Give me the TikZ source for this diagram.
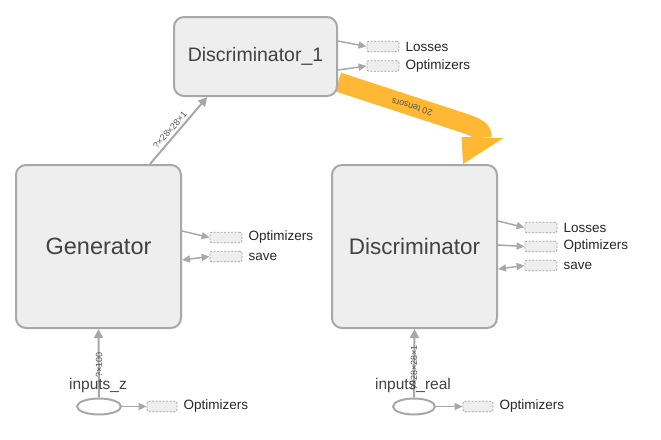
\documentclass[tikz,border=0pt]{standalone}
\usepackage{fontspec}
\setmainfont{Liberation Sans}
\usetikzlibrary{arrows.meta,shapes.geometric,backgrounds}
\definecolor{boxfill}{HTML}{EEEEEE}
\definecolor{boxline}{HTML}{A8A8A8}
\definecolor{edgegray}{HTML}{A8A8A8}
\definecolor{auxline}{HTML}{A0A0A0}
\definecolor{txtdark}{HTML}{424242}
\definecolor{lbl}{HTML}{555555}
\definecolor{orangeband}{HTML}{FFB833}
\tikzset{
  bigbox/.style={draw=boxline, line width=2pt, fill=boxfill, rounded corners=10pt, inner sep=0pt, text=txtdark},
  auxbox/.style={draw=auxline, dash pattern=on 2pt off 1.5pt, line width=0.8pt, fill=boxfill, rounded corners=2pt, minimum width=32pt, minimum height=10.5pt, inner sep=0pt},
  auxtext/.style={anchor=west, inner sep=0pt, font=\fontsize{13.5pt}{14pt}\selectfont, text=black!85},
  edge/.style={draw=edgegray, line width=2pt, -{Triangle[length=9pt 0 0, width=9pt 0 0]}},
  auxedge/.style={draw=edgegray, line width=1.5pt, -{Triangle[length=8pt 0 0, width=7pt 0 0]}},
  auxboth/.style={draw=edgegray, line width=1.5pt, {Triangle[length=8pt 0 0, width=7pt 0 0]}-{Triangle[length=8pt 0 0, width=7pt 0 0]}},
  inp/.style={ellipse, draw=boxline, line width=2pt, fill=white, inner sep=0pt},
  inplabel/.style={inner sep=0pt, font=\fontsize{15.5pt}{16pt}\selectfont, text=txtdark},
  elabel/.style={inner sep=0pt, font=\fontsize{9pt}{10pt}\selectfont, text=lbl}
}
\begin{document}
\begin{tikzpicture}[x=1pt, y=-1pt]
\useasboundingbox (0,0) rectangle (661,439);

\node[bigbox, minimum width=163pt, minimum height=79pt, font=\fontsize{19.5pt}{20pt}\selectfont] (d1) at (255.5,56.5) {Discriminator\_1};
\node[bigbox, minimum width=165pt, minimum height=163pt, font=\fontsize{23.5pt}{24pt}\selectfont] (gen) at (98.5,246.5) {Generator};
\node[bigbox, minimum width=165pt, minimum height=163pt, font=\fontsize{22.5pt}{23pt}\selectfont] (disc) at (414.5,246.5) {Discriminator};

% orange band behind the boxes
\begin{pgfonlayer}{background}
\coordinate (bandend) at (482,137.5);
\draw[orangeband, line width=19.5pt] ([yshift=-66pt]d1.north east) -- (462,122.5) .. controls (477,127.5) and (482,130) .. (bandend);
\fill[orangeband] (461.5,137) -- (503.5,138) -- ([xshift=48.5pt]disc.north) -- cycle;
\end{pgfonlayer}
\node[elabel, rotate=163] (lbl20) at (412,107) {20 tensors};

% aux nodes for Discriminator_1
\node[auxbox] (d1loss) at (383,46.5) {};
\node[auxtext] (d1losst) at ([xshift=6pt]d1loss.east) {Losses};
\node[auxbox] (d1opt) at (383,66) {};
\node[auxtext] (d1optt) at ([xshift=6pt]d1opt.east) {Optimizers};
\draw[auxedge] ([yshift=-25pt]d1.north east) -- (d1loss.west);
\draw[auxedge] ([yshift=-54pt]d1.north east) -- (d1opt.west);

% aux nodes for Generator
\node[auxbox] (gopt) at (226,237.5) {};
\node[auxtext] (gfocus) at ([xshift=6pt]gopt.east) {Optimizers};
\node[auxbox] (gsave) at (226,256.5) {};
\node[auxtext] (gsavet) at ([xshift=6pt]gsave.east) {save};
\draw[auxedge] ([yshift=-67pt]gen.north east) -- (gopt.west);
\draw[auxboth] ([yshift=-96pt]gen.north east) -- (gsave.west);

% aux nodes for Discriminator
\node[auxbox] (dloss) at (541,227.5) {};
\node[auxtext] (dlosst) at ([xshift=6pt]dloss.east) {Losses};
\node[auxbox] (dopt) at (541,246.5) {};
\node[auxtext] (doptt) at ([xshift=6pt]dopt.east) {Optimizers};
\node[auxbox] (dsave) at (541,265.5) {};
\node[auxtext] (dsavet) at ([xshift=6pt]dsave.east) {save};
\draw[auxedge] ([yshift=-57pt]disc.north east) -- (dloss.west);
\draw[auxedge] ([yshift=-81pt]disc.north east) -- (dopt.west);
\draw[auxboth] ([yshift=-105pt]disc.north east) -- (dsave.west);

% generator -> discriminator_1
\draw[edge] (gen.58.7) -- (d1.220.4);
\node[elabel, rotate=48.6] (lblg) at (170,130) {?×28×28×1};

% inputs
\node[inp, minimum width=44pt, minimum height=16pt] (iz) at (99,406.5) {};
\node[inp, minimum width=42pt, minimum height=16pt] (ir) at (414,406.5) {};
\draw[edge] (iz.north) -- (gen.south);
\draw[edge] (ir.north) -- (disc.south);
\node[elabel, rotate=90] (lblz) at (99,365) {?×100};
\node[elabel, rotate=90] (lblr) at (414,368) {?×28×28×1};
\node[inplabel] (izt) at (98,385) {inputs\_z};
\node[inplabel] (irt) at (413,385) {inputs\_real};

\node[auxbox, minimum width=30pt] (izopt) at (162,406.5) {};
\node[auxtext] (izoptt) at ([xshift=6pt]izopt.east) {Optimizers};
\node[auxbox, minimum width=30pt] (iropt) at (478,406.5) {};
\node[auxtext] (iroptt) at ([xshift=6pt]iropt.east) {Optimizers};
\draw[auxedge] (iz.east) -- (izopt.west);
\draw[auxedge] (ir.east) -- (iropt.west);
\end{tikzpicture}
\end{document}
